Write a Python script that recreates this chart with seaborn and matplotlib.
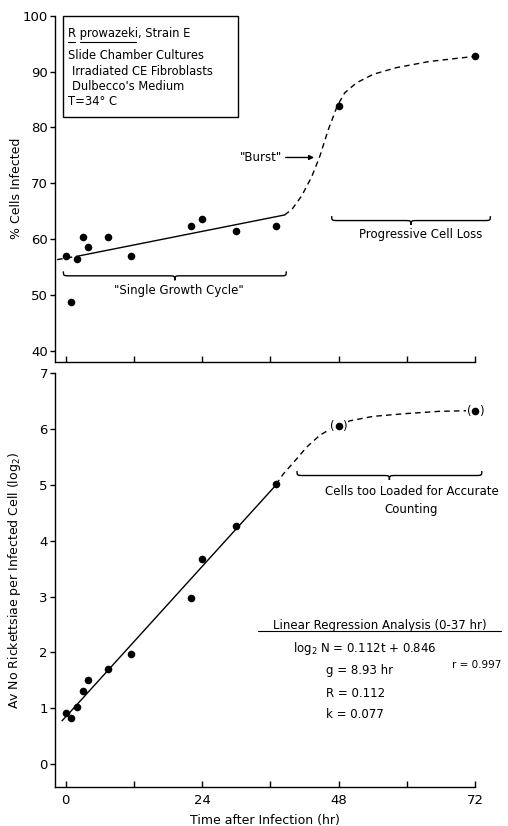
import numpy as np
import matplotlib
matplotlib.use("Agg")
import matplotlib.pyplot as plt
from matplotlib.path import Path
from matplotlib.patches import PathPatch, Rectangle
import seaborn as sns

# --- data ---
# top panel: % cells infected
pct_t = [0, 1, 2, 3, 4, 7.5, 11.5, 22, 24, 30, 37, 48, 72]
pct_infected = [57.0, 48.7, 56.4, 60.4, 58.6, 60.3, 57.0, 62.3, 63.5, 61.5, 62.3, 83.9, 92.7]
pct_fit_t = [2, 38.5]
pct_fit_y = [56.9, 64.3]
pct_fit_ext_t = [-1.5, 2]
pct_fit_ext_y = [56.3, 56.9]
burst_t = [38.5, 39.8, 41.5, 43.3, 44.7, 46.2, 47.1, 47.8, 49.1, 51.2, 54.1, 58.2, 64, 71.8]
burst_y = [64.3, 65.3, 67.7, 71.2, 74.8, 79.6, 82.0, 83.9, 86.2, 88.0, 89.5, 90.7, 91.8, 92.7]

# bottom panel: av no rickettsiae per infected cell (log2)
rick_t = [0, 1, 2, 3, 4, 7.5, 11.5, 22, 24, 30, 37]
rick_log2 = [0.92, 0.83, 1.02, 1.31, 1.50, 1.70, 1.98, 2.97, 3.68, 4.26, 5.01]
loaded_t = [48, 72]
loaded_log2 = [6.06, 6.33]
rick_fit_t = [0.5, 37]
rick_fit_y = [0.90, 5.0]
rick_fit_ext_t = [-0.7, 0.5]
rick_fit_ext_y = [0.77, 0.90]
plateau_t = [37, 38.3, 40.4, 42.4, 44.7, 46.5, 48, 50, 54.1, 60, 65.8, 70.4, 72]
plateau_y = [5.01, 5.20, 5.44, 5.68, 5.89, 6.0, 6.06, 6.15, 6.23, 6.28, 6.32, 6.33, 6.33]

x_ticks = [0, 12, 24, 36, 48, 60, 72]
x_ticklabels = ["0", "", "24", "", "48", "", "72"]

sns.set_style("ticks", {"axes.edgecolor": "black", "xtick.color": "black",
                        "ytick.color": "black", "text.color": "black",
                        "axes.labelcolor": "black"})
plt.rcParams["font.family"] = ["DejaVu Sans"]
plt.rcParams["font.size"] = 9

fig = plt.figure(figsize=(5.08, 8.26), dpi=100)
ax1 = fig.add_axes([0.108, 0.562, 0.827, 0.419])
ax2 = fig.add_axes([0.108, 0.0472, 0.827, 0.5008])

DASH = (0, (4, 3))


def brace(ax, x0, x1, y, h, r):
    xm = (x0 + x1) / 2
    verts = [(x0, y + h), (x0, y), (x0, y), (x0 + r, y),
             (xm - r, y),
             (xm, y), (xm, y), (xm, y - h),
             (xm, y), (xm, y), (xm + r, y),
             (x1 - r, y),
             (x1, y), (x1, y), (x1, y + h)]
    codes = [Path.MOVETO, Path.CURVE4, Path.CURVE4, Path.CURVE4,
             Path.LINETO,
             Path.CURVE4, Path.CURVE4, Path.CURVE4,
             Path.CURVE4, Path.CURVE4, Path.CURVE4,
             Path.LINETO,
             Path.CURVE4, Path.CURVE4, Path.CURVE4]
    ax.add_patch(PathPatch(Path(verts, codes), fill=False, lw=1.0,
                           color="black", clip_on=False))


# ---------- top panel ----------
ax = ax1
ax.plot(pct_fit_t, pct_fit_y, color="black", lw=1.0)
ax.plot(pct_fit_ext_t, pct_fit_ext_y, color="black", lw=1.0, linestyle=DASH)
ax.plot(burst_t, burst_y, color="black", lw=1.0, linestyle=DASH)
sns.scatterplot(x=pct_t, y=pct_infected, ax=ax, color="black", s=30,
                linewidth=0, zorder=3, clip_on=False)

ax.set_xlim(-1.9, 72)
ax.set_ylim(38, 100)
ax.set_yticks(range(40, 101, 10))
ax.set_xticks(x_ticks)
ax.set_xticklabels([])
ax.set_ylabel("% Cells Infected", fontsize=9)
ax.yaxis.set_label_coords(-0.076, 0.5)

ax.add_patch(Rectangle((-0.5, 81.9), 30.9, 18.1, fill=False, lw=1.0,
                       color="black", clip_on=False))
ax.text(0.35, 96.8, "R prowazeki, Strain E", va="center", fontsize=8.3)
ax.plot([0.35, 1.6], [95.3, 95.3], color="black", lw=0.8)
ax.plot([2.6, 12.3], [95.3, 95.3], color="black", lw=0.8)
ax.text(0.35, 92.8, "Slide Chamber Cultures", va="center", fontsize=8.3)
ax.text(1.2, 90.0, "Irradiated CE Fibroblasts", va="center", fontsize=8.3)
ax.text(1.2, 87.3, "Dulbecco's Medium", va="center", fontsize=8.3)
ax.text(0.35, 84.6, "T=34° C", va="center", fontsize=8.3)

ax.annotate("", xy=(43.7, 74.6), xytext=(38.7, 74.6),
            arrowprops=dict(arrowstyle="-|>", color="black", lw=1.0,
                            mutation_scale=7, shrinkA=0, shrinkB=0))
ax.text(34.3, 74.6, '"Burst"', ha="center", va="center", fontsize=8.5)

brace(ax, -0.4, 38.8, 53.4, 0.8, 1.2)
ax.text(19.9, 50.75, '"Single Growth Cycle"', ha="center", va="center", fontsize=8.5)
brace(ax, 46.8, 74.7, 63.3, 0.8, 1.2)
ax.text(62.5, 60.8, "Progressive Cell Loss", ha="center", va="center", fontsize=8.5)

# ---------- bottom panel ----------
ax = ax2
ax.plot(rick_fit_t, rick_fit_y, color="black", lw=1.0)
ax.plot(rick_fit_ext_t, rick_fit_ext_y, color="black", lw=1.0, linestyle=DASH)
ax.plot(plateau_t, plateau_y, color="black", lw=1.0, linestyle=DASH)
sns.scatterplot(x=rick_t, y=rick_log2, ax=ax, color="black", s=30,
                linewidth=0, zorder=3)
sns.scatterplot(x=loaded_t, y=loaded_log2, ax=ax, color="black", s=30,
                linewidth=0, zorder=5, clip_on=False)
for t, v in zip(loaded_t, loaded_log2):
    for ch, dx in (("(", -4.4), (")", 4.4)):
        ax.annotate(ch, xy=(t, v), xytext=(dx, -0.6), textcoords="offset points",
                    ha="center", va="center", fontsize=8.5, annotation_clip=False,
                    bbox=dict(boxstyle="square,pad=0.05", fc="white", ec="none"),
                    zorder=4)

ax.set_xlim(-1.9, 72)
ax.set_ylim(-0.41, 7)
ax.set_yticks(range(0, 8))
ax.set_xticks(x_ticks)
ax.set_xticklabels(x_ticklabels)
ax.set_xlabel("Time after Infection (hr)", fontsize=9)
ax.xaxis.set_label_coords(0.5, -0.066)
ax.set_ylabel("Av No Rickettsiae per Infected Cell (log$_2$)", fontsize=9)
ax.yaxis.set_label_coords(-0.076, 0.5)

brace(ax, 40.7, 73.2, 5.17, 0.08, 1.2)
ax.text(60.9, 4.88, "Cells too Loaded for Accurate", ha="center", va="center", fontsize=8.5)
ax.text(60.7, 4.56, "Counting", ha="center", va="center", fontsize=8.5)

ax.text(55.3, 2.49, "Linear Regression Analysis (0-37 hr)", ha="center",
        va="center", fontsize=8.5)
ax.plot([33.8, 76.5], [2.38, 2.38], color="black", lw=0.8, clip_on=False)
ax.text(40.0, 2.08, "log$_2$ N = 0.112t + 0.846", va="center", fontsize=8.5)
ax.text(68.0, 1.77, "r = 0.997", va="center", fontsize=7.5)
ax.text(45.8, 1.68, "g = 8.93 hr", va="center", fontsize=8.5)
ax.text(45.8, 1.27, "R = 0.112", va="center", fontsize=8.5)
ax.text(45.8, 0.88, "k = 0.077", va="center", fontsize=8.5)

for a in (ax1, ax2):
    sns.despine(ax=a)
    a.spines["left"].set_linewidth(1.0)
    a.spines["bottom"].set_linewidth(1.0)
    a.tick_params(axis="y", direction="out", length=3.5, width=1.0, pad=1.5, labelsize=9.5)
    a.tick_params(axis="x", direction="in", length=4, width=1.0, pad=5, labelsize=9.5)

fig.savefig("out.png", dpi=100, facecolor="white")
